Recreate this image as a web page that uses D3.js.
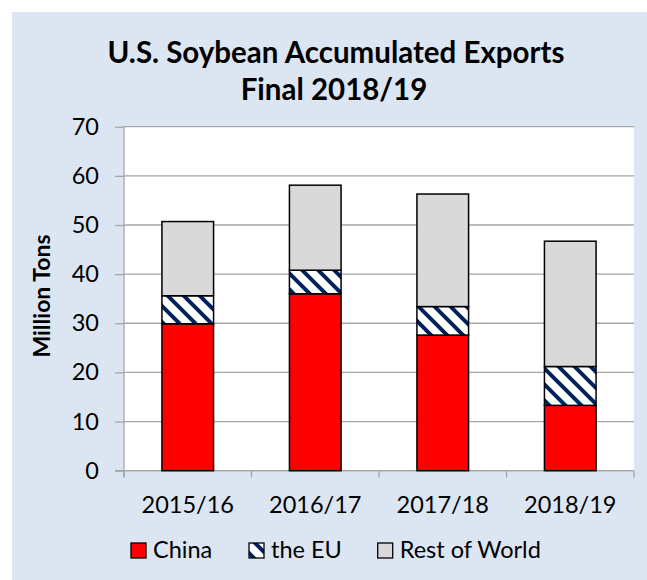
<!DOCTYPE html>
<html>
<head>
<meta charset="utf-8">
<script src="https://cdn.jsdelivr.net/npm/d3@7"></script>
<style>
  html, body { margin: 0; padding: 0; background: #ffffff; }
  svg { display: block; }
  text { font-family: "Lato", "Open Sans", sans-serif; fill: #000; }
</style>
</head>
<body>
<svg id="chart" width="647" height="580"></svg>
<script>
// ---- data ----
const categories = ["2015/16", "2016/17", "2017/18", "2018/19"];
const seriesNames = ["China", "the EU", "Rest of World"];
const china = [29.9, 36.0, 27.6, 13.3];
const eu = [5.7, 4.8, 5.8, 7.9];
const restOfWorld = [15.1, 17.3, 22.9, 25.5];
const yTicks = [0, 10, 20, 30, 40, 50, 60, 70];
const titleLines = ["U.S. Soybean Accumulated Exports", "Final 2018/19"];
const yAxisTitle = "Million Tons";

// ---- layout ----
const W = 647, H = 580;
const plot = { left: 124, right: 634, top: 126.7, bottom: 470.7 };
const svg = d3.select("#chart");

const defs = svg.append("defs");
const pat = defs.append("pattern")
  .attr("id", "euPattern")
  .attr("patternUnits", "userSpaceOnUse")
  .attr("width", 16).attr("height", 16);
pat.append("rect").attr("width", 16).attr("height", 16).attr("fill", "#ffffff");
pat.append("path")
  .attr("d", "M-4,-4L20,20M-4,12L4,20M12,-4L20,4")
  .attr("stroke", "#002060").attr("stroke-width", 4).attr("fill", "none");

// panel background
svg.append("rect").attr("x", 12).attr("y", 12).attr("width", W - 12).attr("height", H - 12)
  .attr("fill", "#DCE6F2");

// plot area
svg.append("rect")
  .attr("x", plot.left).attr("y", plot.top)
  .attr("width", plot.right - plot.left).attr("height", plot.bottom - plot.top)
  .attr("fill", "#ffffff");

const x = d3.scaleBand().domain(categories)
  .range([plot.left, plot.right])
  .paddingInner(0.595).paddingOuter(0.2975);
const y = d3.scaleLinear().domain([0, 70]).range([plot.bottom, plot.top]);

// gridlines
svg.append("g").selectAll("line").data(yTicks).join("line")
  .attr("x1", plot.left).attr("x2", plot.right)
  .attr("y1", d => y(d)).attr("y2", d => y(d))
  .attr("stroke", "#A6A6A6").attr("stroke-width", 1.3);

// y axis
const yAxis = svg.append("g").attr("transform", `translate(${plot.left},0)`)
  .call(d3.axisLeft(y).tickValues(yTicks).tickSize(9).tickSizeOuter(0).tickPadding(16));
yAxis.select(".domain").attr("stroke", "#A6A6A6").attr("stroke-width", 1.3)
  .attr("d", `M0,${plot.top}V${plot.bottom + 6}`);
yAxis.selectAll(".tick line").attr("stroke", "#A6A6A6").attr("stroke-width", 1.3);
yAxis.selectAll(".tick text").style("font-family", "Lato").style("font-size", "23.5px").attr("fill", "#000");

// x axis line + category separators
const xg = svg.append("g");
xg.append("line").attr("x1", plot.left - 9).attr("x2", plot.right)
  .attr("y1", plot.bottom).attr("y2", plot.bottom)
  .attr("stroke", "#A6A6A6").attr("stroke-width", 1.3);
const bounds = d3.range(categories.length + 1).map(i => plot.left + i * x.step());
xg.selectAll("line.sep").data(bounds).join("line").attr("class", "sep")
  .attr("x1", d => d).attr("x2", d => d)
  .attr("y1", plot.bottom).attr("y2", plot.bottom + 7)
  .attr("stroke", "#A6A6A6").attr("stroke-width", 1.3);
xg.selectAll("text").data(categories).join("text")
  .attr("x", d => x(d) + x.bandwidth() / 2).attr("y", 513)
  .attr("text-anchor", "middle").style("font-size", "23.5px").text(d => d);

// stacked bars
const rows = categories.map((c, i) => ({ cat: c, "China": china[i], "the EU": eu[i], "Rest of World": restOfWorld[i] }));
const stack = d3.stack().keys(seriesNames)(rows);
const fills = { "China": "#FF0000", "the EU": "url(#euPattern)", "Rest of World": "#D9D9D9" };
svg.append("g").selectAll("g").data(stack).join("g")
  .attr("fill", d => fills[d.key])
  .selectAll("rect").data(d => d).join("rect")
  .attr("x", d => x(d.data.cat))
  .attr("width", x.bandwidth())
  .attr("y", d => y(d[1]))
  .attr("height", d => y(d[0]) - y(d[1]))
  .attr("stroke", "#000").attr("stroke-width", 1.5);

// title
const titlePos = [{ cx: 336, y: 63 }, { cx: 334, y: 100 }];
titleLines.forEach((t, i) => {
  svg.append("text").attr("x", titlePos[i].cx).attr("y", titlePos[i].y)
    .attr("text-anchor", "middle").style("font-weight", "bold").style("font-size", "29.5px").text(t);
});

// y axis title
svg.append("text").attr("transform", "translate(50,296) rotate(-90)")
  .attr("text-anchor", "middle").style("font-weight", "bold").style("font-size", "23px")
  .text(yAxisTitle);

// legend
const legendX = [131, 249, 377.7];
const legendFills = ["#FF0000", "url(#euPattern)", "#D9D9D9"];
const lg = svg.append("g");
seriesNames.forEach((n, i) => {
  lg.append("rect").attr("x", legendX[i]).attr("y", 543).attr("width", 15).attr("height", 15)
    .attr("fill", legendFills[i]).attr("stroke", "#000").attr("stroke-width", 1.3);
  lg.append("text").attr("x", legendX[i] + 22).attr("y", 558)
    .style("font-size", "23.5px").text(n);
});
</script>
</body>
</html>
